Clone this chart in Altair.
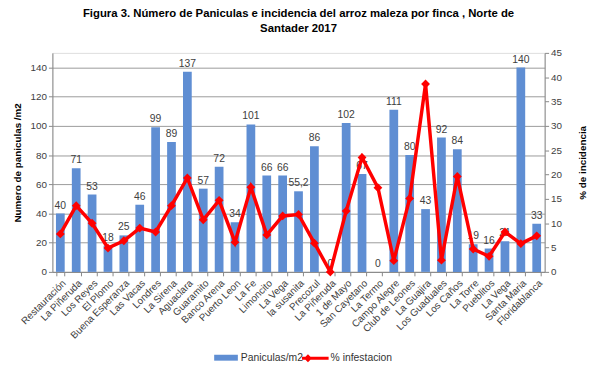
import altair as alt
import pandas as pd

fincas = ["Restauración", "La Piñeruda", "Los Reyes", "El Plomo", "Buena Esperanza",
          "Las Vacas", "Londres", "La Sirena", "Aguaclara", "Guaramito", "Banco Arena",
          "Puerto Leon", "La Fe", "Limoncito", "La Vega", "la susanita", "Precozul",
          "La Piñeruda", "1 de Mayo", "San Cayetano", "La Termo", "Campo Alegre",
          "Club de Leones", "La Guajira", "Los Guaduales", "Los Caños", "La Torre",
          "Pueblitos", "La Vega", "Santa Maria", "Floridablanca"]
paniculas = [40, 71, 53, 18, 25, 46, 99, 89, 137, 57, 72, 34, 101, 66, 66, 55.2, 86,
             0, 102, 67, 0, 111, 80, 43, 92, 84, 19, 16, 21, 140, 33]
infestacion = [7.8, 13.6, 10.0, 4.9, 6.4, 9.0, 8.2, 13.6, 19.3, 10.7, 14.7, 6.1, 17.4,
               7.6, 11.5, 11.8, 5.9, 0.0, 12.5, 23.5, 17.3, 2.3, 15.1, 38.6, 2.4, 19.6,
               4.7, 3.2, 8.2, 5.8, 7.4]
left_ticks = [0, 20, 40, 60, 80, 100, 120, 140]
right_ticks = [0, 5, 10, 15, 20, 25, 30, 35, 40, 45]

# unique keys for duplicated farm names (zero-width space suffix)
keys = []
seen = {}
for f in fincas:
    n = seen.get(f, 0)
    keys.append(f + "\u200b" * n)
    seen[f] = n + 1

labels = [(str(v).replace(".", ",") if v != int(v) else str(int(v))) for v in paniculas]

df = pd.DataFrame({
    "finca": keys,
    "paniculas": paniculas,
    "infestacion": infestacion,
    "label": labels,
    "s1": "Paniculas/m2",
    "s2": "% infestacion",
})

FONT = "Liberation Sans"
BLUE = "#5F8ED3"
RED = "#FF0000"

xenc = alt.X("finca:N", sort=keys,
             scale=alt.Scale(paddingInner=0.45, paddingOuter=0.225),
             axis=alt.Axis(title=None, labelAngle=315, tickBand="extent",
                           labelFontSize=10, labelColor="#404040", labelFont=FONT,
                           domainColor="#888888", tickColor="#888888", tickSize=4,
                           labelPadding=2, labelOverlap=False))

left_axis = alt.Axis(values=left_ticks, title="Numero de paniculas /m2",
                     titleFontSize=10, titleFontWeight="bold", titleFont=FONT,
                     titleColor="#000000", titlePadding=8,
                     labelFontSize=10, labelColor="#404040", labelFont=FONT,
                     labelOverlap=False,
                     grid=True, gridColor="#9a9a9a", gridWidth=1,
                     domainColor="#888888", tickColor="#888888", tickSize=4,
                     labelPadding=2)
left_scale = alt.Scale(domain=[0, 150], nice=False)

base = alt.Chart(df).encode(x=xenc)

bars = base.mark_bar(color=BLUE).encode(
    y=alt.Y("paniculas:Q", scale=left_scale, axis=left_axis),
    color=alt.Color("s1:N", scale=alt.Scale(domain=["Paniculas/m2"], range=[BLUE]),
                    legend=alt.Legend(title=None, orient="none", legendX=163, legendY=296,
                                      symbolType="M-1,-0.25H1V0.25H-1Z", symbolSize=576,
                                      labelFontSize=10.5, labelFont=FONT,
                                      labelColor="#333333", labelOffset=2)),
)

text = base.mark_text(dy=-8, fontSize=10.5, font=FONT, color="#404040").encode(
    y=alt.Y("paniculas:Q", scale=left_scale, axis=left_axis),
    text="label:N",
)

line = base.mark_line(color=RED, strokeWidth=3.5,
                      point=alt.OverlayMarkDef(shape="diamond", size=80, filled=True,
                                               color=RED)).encode(
    y=alt.Y("infestacion:Q", scale=alt.Scale(domain=[0, 45], nice=False),
            axis=alt.Axis(orient="right", values=right_ticks, title="% de incidencia",
                          titleFontSize=10, titleFontWeight="bold", titleFont=FONT,
                          titleColor="#000000", titleAngle=270, titlePadding=26,
                          labelFontSize=10, labelColor="#404040", labelFont=FONT,
                          labelOverlap=False,
                          grid=False, domainColor="#888888", tickColor="#888888",
                          tickSize=4, labelPadding=2)),
    color=alt.Color("s2:N", scale=alt.Scale(domain=["% infestacion"], range=[RED]),
                    legend=alt.Legend(title=None, orient="none", legendX=253, legendY=296,
                                      symbolType="M-1,-0.11H1V0.11H-1Z M-0.55,-0.3L-0.25,0L-0.55,0.3L-0.85,0Z",
                                      symbolSize=729, symbolFillColor=RED,
                                      symbolStrokeWidth=0,
                                      labelFontSize=10.5, labelFont=FONT,
                                      labelColor="#333333", labelOffset=2)),
)

chart = alt.layer(alt.layer(bars, text), line).resolve_scale(
    y="independent", color="independent"
).properties(
    width=499, height=222,
    padding={"left": 45, "top": 43, "right": 48, "bottom": 100},
    autosize=alt.AutoSizeParams(type="none"),
    title=alt.Title(["Figura 3. Número de Paniculas e incidencia del arroz maleza por finca , Norte de",
                     "Santader 2017"],
                    fontSize=11.5, font=FONT, fontWeight="bold", color="#000000",
                    anchor="middle", offset=14, lineHeight=14.5),
).configure_view(stroke=None).configure(background="white")

chart.save("out.html", embed_options={"renderer": "svg", "actions": False})
